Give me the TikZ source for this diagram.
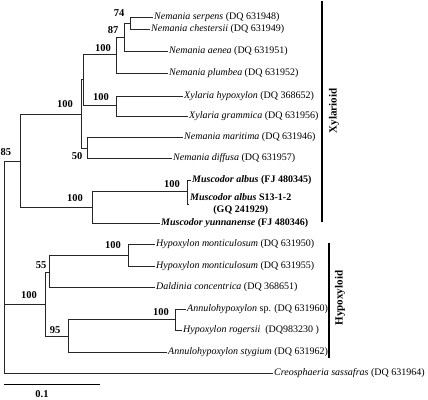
\documentclass[tikz,border=0pt]{standalone}
\usepackage{fontspec}
\setmainfont{Liberation Serif}
\tikzset{
	hv/.style={to path={|- (\tikztotarget)}},
	taxon/.style={anchor=west,inner sep=1pt,font=\fontsize{10}{12}\selectfont},
	boot/.style={inner sep=0pt,font=\fontsize{10.5}{12}\selectfont\bfseries},
	grp/.style={inner sep=0pt,font=\fontsize{11}{12}\selectfont\bfseries,rotate=90},
}
\begin{document}
\begin{tikzpicture}[x=1pt,y=-1pt]
		\useasboundingbox (0,0) rectangle (428,399);
		\foreach \nm/\x/\y in {root/4/161,c85/20/161,cxyl/81/114,cn100/83/79,c100a/116/54,c87/124/37,c74/130/23,c100b/116/105,c50/87/148,cmus/92/207,calb/187/191,chyp/45/304,c55/49/272,chm/128/255,c95/68/336,cann/175/319}
			\coordinate (\nm) at (\x,\y);
		\foreach \nm/\x/\y/\txt in {
			serp/153/17/{\textit{Nemania serpens} (DQ 631948)},
			ches/150/29/{\textit{Nemania chestersii} (DQ 631949)},
			aen/168/51/{\textit{Nemania aenea} (DQ 631951)},
			plu/168/73/{\textit{Nemania plumbea} (DQ 631952)},
			xhy/183/96/{\textit{Xylaria hypoxylon} (DQ 368652)},
			xgr/188/116/{\textit{Xylaria grammica} (DQ 631956)},
			mar/183/137/{\textit{Nemania maritima} (DQ 631946)},
			dif/172/158/{\textit{Nemania diffusa} (DQ 631957)},
			malb/191/180/{\bfseries\textit{Muscodor albus} (FJ 480345)},
			myun/160/223/{\bfseries\textit{Muscodor yunnanense} (FJ 480346)},
			hmoa/155/244/{\textit{Hypoxylon monticulosum} (DQ 631950)},
			hmob/155/266/{\textit{Hypoxylon monticulosum} (DQ 631955)},
			dal/155/287/{\textit{Daldinia concentrica} (DQ 368651)},
			asp/186/309/{\textit{Annulohypoxylon} sp. (DQ 631960)},
			hro/182/330/{\textit{Hypoxylon rogersii}~~(DQ983230 )},
			sty/167/352/{\textit{Annulohypoxylon stygium} (DQ 631962)},
			cre/273/373/{\textit{Creosphaeria sassafras} (DQ 631964)}
		}
			\node[taxon] (\nm) at (\x,\y) {\txt};
		\node[taxon,align=center] (msth) at (189,204) {\bfseries\textit{Muscodor albus} S13-1-2\\\bfseries(GQ 241929)};
		\path[draw=black!85,line width=.8pt]
		\foreach \from/\to in {root/c85,root/chyp,root/cre,c85/cxyl,c85/cmus,cxyl/cn100,cxyl/c50,cn100/c100a,cn100/c100b,c100a/c87,c100a/plu,c87/c74,c87/aen,c74/serp,c74/ches,c100b/xhy,c100b/xgr,c50/mar,c50/dif,cmus/calb,cmus/myun,calb/malb,calb/msth,chyp/c55,chyp/c95,c55/chm,c55/dal,chm/hmoa,chm/hmob,c95/cann,c95/sty,cann/asp,cann/hro} {
			(\from) edge[hv] (\to)
		};
		\foreach \bs/\x/\y [count=\i] in {74/119/13,87/113/30,100/103/48,100/101/97,100/65/104,50/77/156,85/6/152,100/172/184,100/75/198,55/41/265,100/113/245,100/29/295,95/55/330,100/161/312}
			\node[boot] (bs\i) at (\x,\y) {\bs};
		\coordinate (xtop) at (322,1);
		\coordinate (xbot) at (322,222);
		\coordinate (htop) at (329,243);
		\coordinate (hbot) at (329,358);
		\draw[line width=1.8pt] (xtop) -- (xbot);
		\draw[line width=1.8pt] (htop) -- (hbot);
		\node[grp] (xyl) at (334,111) {Xylarioid};
		\node[grp] (hyp) at (340,298) {Hypoxyloid};
		\coordinate (sca) at (4,384);
		\coordinate (scb) at (100,384);
		\draw[line width=.9pt] (sca) -- (scb);
		\node[boot] (scl) at (42,394) {0.1};
	\end{tikzpicture}
\end{document}
